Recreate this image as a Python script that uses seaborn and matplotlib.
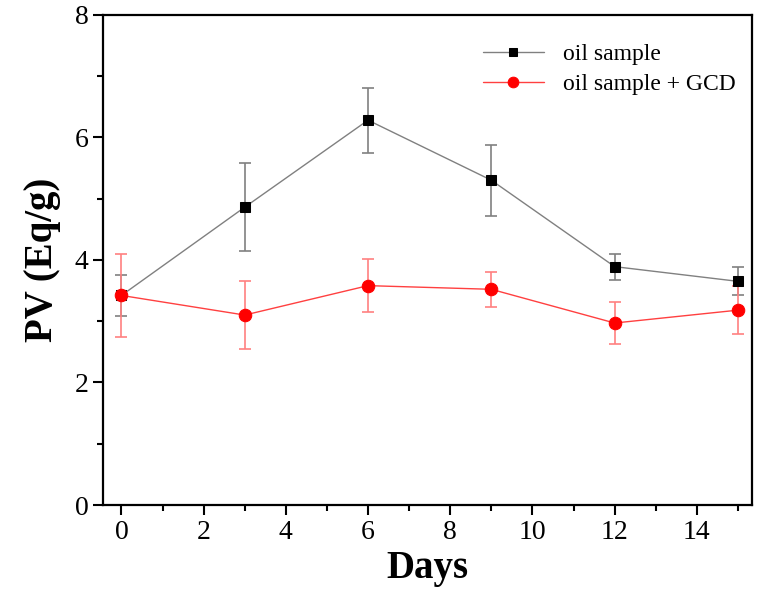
import matplotlib
matplotlib.use("Agg")
import matplotlib.pyplot as plt
import seaborn as sns
import pandas as pd
from matplotlib.ticker import MultipleLocator

days = [0, 3, 6, 9, 12, 15]
oil = [3.42, 4.86, 6.28, 5.30, 3.89, 3.65]
oil_err = [0.34, 0.72, 0.53, 0.58, 0.21, 0.23]
gcd = [3.42, 3.10, 3.58, 3.52, 2.97, 3.18]
gcd_err = [0.67, 0.55, 0.43, 0.29, 0.35, 0.39]
labels = ["oil sample", "oil sample + GCD"]

sns.set_theme(style="ticks")
plt.rcParams['font.family'] = ['Liberation Serif', 'DejaVu Serif']
plt.rcParams['text.color'] = 'black'
plt.rcParams['axes.labelcolor'] = 'black'

fig = plt.figure(figsize=(7.74, 5.9), dpi=100)
ax = fig.add_axes([0.133, 0.144, 0.839, 0.831])

df1 = pd.DataFrame({"Days": days, "PV": oil})
df2 = pd.DataFrame({"Days": days, "PV": gcd})

ax.errorbar(days, oil, yerr=oil_err, fmt="none", ecolor="#808080", elinewidth=1.2, capsize=4, capthick=1.2, zorder=2)
ax.errorbar(days, gcd, yerr=gcd_err, fmt="none", ecolor="#ff8080", elinewidth=1.2, capsize=4, capthick=1.2, zorder=2)

sns.lineplot(data=df1, x="Days", y="PV", ax=ax, color="#808080", lw=1, marker="s",
             markersize=7.5, markerfacecolor="black", markeredgecolor="black", label=labels[0], zorder=3)
sns.lineplot(data=df2, x="Days", y="PV", ax=ax, color="#ff4040", lw=1, marker="o",
             markersize=9, markerfacecolor="red", markeredgecolor="red", label=labels[1], zorder=4)

ax.set_xlim(-0.45, 15.35)
ax.set_ylim(0, 8)
ax.xaxis.set_major_locator(MultipleLocator(2))
ax.xaxis.set_minor_locator(MultipleLocator(1))
ax.yaxis.set_major_locator(MultipleLocator(2))
ax.yaxis.set_minor_locator(MultipleLocator(1))
ax.tick_params(axis="both", which="major", direction="out", length=7, width=1.5, labelsize=20, colors="black")
ax.tick_params(axis="both", which="minor", direction="out", length=4, width=1.5, colors="black")
for s in ax.spines.values():
    s.set_visible(True)
    s.set_linewidth(1.6)
    s.set_color("black")

ax.set_xlabel("Days", fontsize=28, fontweight="bold", labelpad=4, color="black")
ax.set_ylabel("PV (Eq/g)", fontsize=28, fontweight="bold", labelpad=10, color="black")

leg = ax.legend(loc="upper right", frameon=False, fontsize=17, handlelength=2.6,
                bbox_to_anchor=(1.0, 0.975), borderaxespad=0.3, labelspacing=0.35, markerscale=0.85)
for t in leg.get_texts():
    t.set_color("black")

fig.savefig("out.png", dpi=100)
